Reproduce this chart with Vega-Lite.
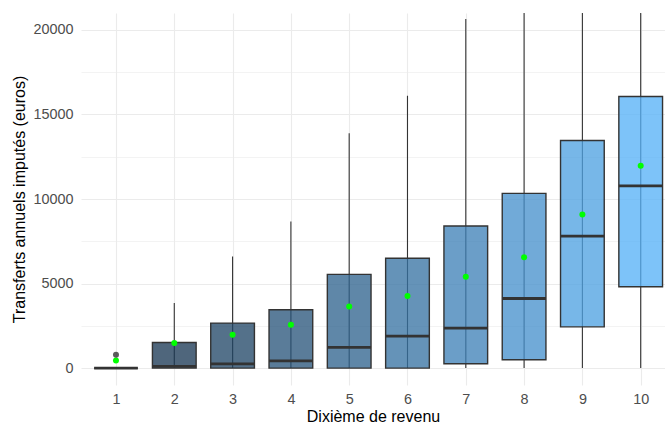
{
  "$schema": "https://vega.github.io/schema/vega-lite/v6.json",
  "width": 584,
  "height": 372,
  "autosize": {"type": "none"},
  "padding": {"left": 81, "top": 13, "right": 0, "bottom": 42},
  "background": "white",
  "config": {
    "view": {"stroke": null},
    "font": "Liberation Sans"
  },
  "datasets": {
    "stats": [
      {"decile": 1, "lower": 0, "q1": 0, "median": 0, "q3": 0, "upper": 0, "mean": 450},
      {"decile": 2, "lower": 0, "q1": 0, "median": 100, "q3": 1515, "upper": 3845, "mean": 1480},
      {"decile": 3, "lower": 0, "q1": 0, "median": 255, "q3": 2660, "upper": 6600, "mean": 1970},
      {"decile": 4, "lower": 0, "q1": 0, "median": 430, "q3": 3450, "upper": 8670, "mean": 2560},
      {"decile": 5, "lower": 0, "q1": 0, "median": 1220, "q3": 5540, "upper": 13890, "mean": 3640},
      {"decile": 6, "lower": 0, "q1": 0, "median": 1890, "q3": 6500, "upper": 16110, "mean": 4260},
      {"decile": 7, "lower": 0, "q1": 255, "median": 2365, "q3": 8400, "upper": 20650, "mean": 5400},
      {"decile": 8, "lower": 0, "q1": 490, "median": 4115, "q3": 10330, "upper": 25000, "mean": 6560},
      {"decile": 9, "lower": 0, "q1": 2440, "median": 7800, "q3": 13460, "upper": 30000, "mean": 9080},
      {"decile": 10, "lower": 0, "q1": 4810, "median": 10780, "q3": 16060, "upper": 34000, "mean": 11960}
    ],
    "outliers": [
      {"decile": 1, "value": 790}
    ]
  },
  "data": {"name": "stats"},
  "encoding": {
    "x": {
      "field": "decile",
      "type": "quantitative",
      "scale": {"domain": [0.4, 10.417], "nice": false, "zero": false, "padding": 0},
      "axis": {
        "values": [1, 2, 3, 4, 5, 6, 7, 8, 9, 10],
        "format": "d",
        "grid": true,
        "gridColor": "#EBEBEB",
        "gridWidth": 1.1,
        "domain": false,
        "ticks": false,
        "labelPadding": 7,
        "labelFontSize": 14.4,
        "labelColor": "#4D4D4D",
        "title": "Dixième de revenu",
        "titleFontSize": 16,
        "titleFontWeight": "normal",
        "titleColor": "#000000",
        "titlePadding": 3
      }
    }
  },
  "layer": [
    {
      "mark": {"type": "rule", "color": "#333333", "strokeWidth": 1.1, "clip": true},
      "encoding": {
        "y": {
          "field": "lower",
          "type": "quantitative",
          "scale": {"domain": [-1000, 21000], "nice": false, "zero": false, "padding": 0},
          "axis": {
            "orient": "right",
            "values": [2500, 7500, 12500, 17500],
            "grid": true,
            "gridColor": "#EBEBEB",
            "gridWidth": 0.6,
            "labels": false,
            "ticks": false,
            "domain": false,
            "title": null
          }
        },
        "y2": {"field": "upper"}
      }
    },
    {
      "mark": {"type": "bar", "orient": "vertical", "width": 43.7, "stroke": "#333333", "strokeWidth": 1.4, "fillOpacity": 0.77, "clip": true},
      "encoding": {
        "y": {
          "field": "q1",
          "type": "quantitative",
          "axis": {
            "orient": "left",
            "values": [0, 5000, 10000, 15000, 20000],
            "format": "d",
            "grid": true,
            "gridColor": "#EBEBEB",
            "gridWidth": 1.1,
            "domain": false,
            "ticks": false,
            "labelPadding": 8,
            "labelFontSize": 14.4,
            "labelColor": "#4D4D4D",
            "title": "Transferts annuels imputés (euros)",
            "titleFontSize": 16,
            "titleFontWeight": "normal",
            "titleColor": "#000000",
            "titlePadding": 5
          }
        },
        "y2": {"field": "q3"},
        "fill": {
          "field": "decile",
          "type": "quantitative",
          "scale": {"domain": [1, 10], "range": ["#132B43", "#56B1F7"], "interpolate": "lab"},
          "legend": null
        }
      }
    },
    {
      "mark": {"type": "tick", "orient": "horizontal", "size": 43.7, "thickness": 2.8, "color": "#333333", "opacity": 1},
      "encoding": {
        "y": {"field": "median", "type": "quantitative", "axis": null}
      }
    },
    {
      "mark": {"type": "circle", "color": "#00FF00", "size": 36, "opacity": 1},
      "encoding": {
        "y": {"field": "mean", "type": "quantitative", "axis": null}
      }
    },
    {
      "data": {"name": "outliers"},
      "mark": {"type": "circle", "color": "#333333", "size": 36, "opacity": 0.8},
      "encoding": {
        "y": {"field": "value", "type": "quantitative", "axis": null}
      }
    }
  ],
  "resolve": {"axis": {"y": "independent"}}
}
